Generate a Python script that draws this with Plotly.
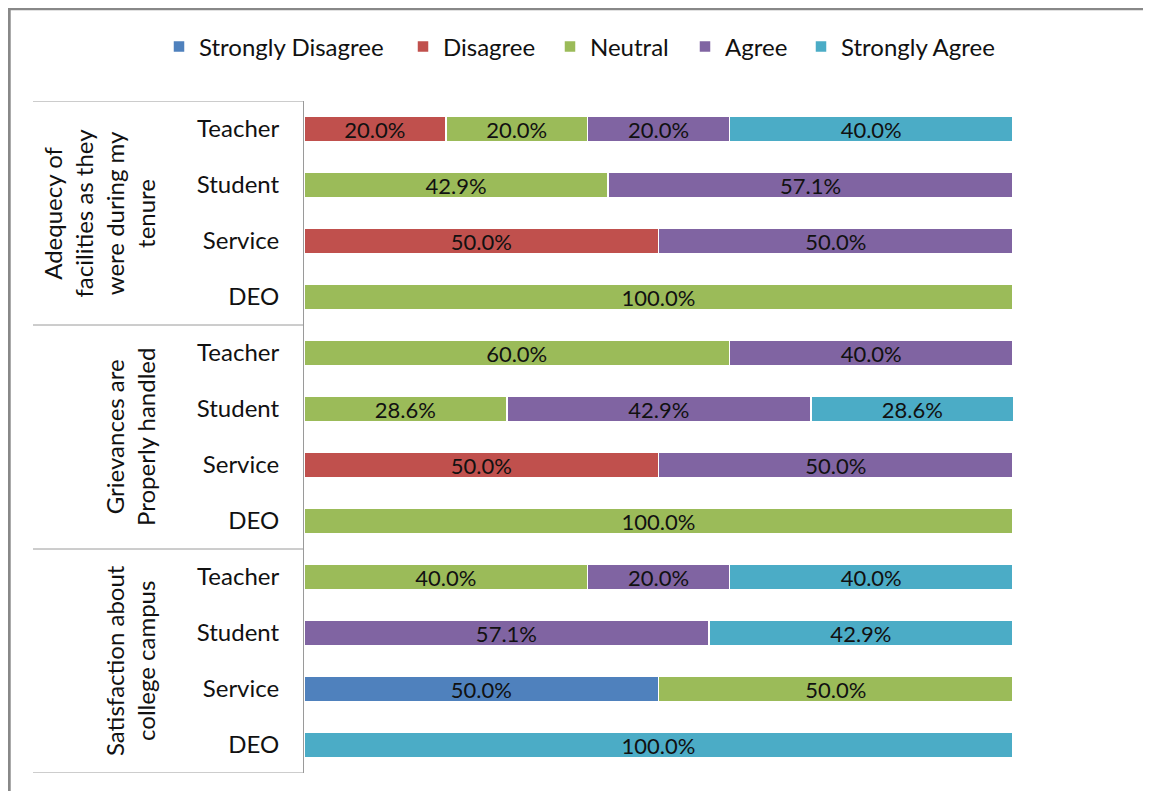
import plotly.graph_objects as go

groups = ["Adequecy of<br>facilities as they<br>were during my<br>tenure",
          "Grievances are<br>Properly handled",
          "Satisfaction about<br>college campus"]
roles = ["Teacher", "Student", "Service", "DEO"]
series = ["Strongly Disagree", "Disagree", "Neutral", "Agree", "Strongly Agree"]
colors = ["#4F81BD", "#C0504D", "#9BBB59", "#8064A2", "#4BACC6"]

# rows: group1 (Teacher, Student, Service, DEO), group2 (...), group3 (...)
strongly_disagree = [0, 0, 0, 0,    0, 0, 0, 0,       0, 0, 50.0, 0]
disagree          = [20.0, 0, 50.0, 0,  0, 0, 50.0, 0,  0, 0, 0, 0]
neutral           = [20.0, 42.9, 0, 100.0,  60.0, 28.6, 0, 100.0,  40.0, 0, 50.0, 0]
agree             = [20.0, 57.1, 50.0, 0,  40.0, 42.9, 50.0, 0,  20.0, 57.1, 0, 0]
strongly_agree    = [40.0, 0, 0, 0,  0, 28.6, 0, 0,  40.0, 42.9, 0, 100.0]
values = [strongly_disagree, disagree, neutral, agree, strongly_agree]

OFF = 8  # page body margin
W, H = 1135, 783
# plot area in page pixels
L, R, T, B = 304, 1013, 101, 773
pw, ph = R - L, B - T
FONT = "Lato"
TXT = "#111111"
legend_sq_left = [173, 417, 564, 699, 815]  # page px of legend swatches

row_labels = roles * len(groups)
ypos = list(range(len(row_labels)))

def px_x(p):
    return (p - L) / pw

def px_y(p):
    return 1 - (p - T) / ph

fig = go.Figure()
legend_layouts = {}
for i, (name, col, vals) in enumerate(zip(series, colors, values)):
    v = [x if x else None for x in vals]
    lg = "legend" if i == 0 else f"legend{i + 1}"
    fig.add_trace(go.Bar(
        y=ypos, x=v, name=name, orientation="h", legend=lg,
        marker=dict(color=col, line=dict(color="white", width=1.5)),
        texttemplate="%{x:.1f}%", textposition="inside", insidetextanchor="middle",
        textfont=dict(family=FONT, size=22, color=TXT),
        constraintext="none", width=0.46, hoverinfo="skip",
    ))
    legend_layouts[lg] = dict(orientation="h", x=px_x(legend_sq_left[i] - 14), xanchor="left",
                              y=px_y(47), yanchor="middle", bgcolor="rgba(0,0,0,0)",
                              font=dict(family=FONT, size=24, color=TXT),
                              itemwidth=30)

shapes = []
for b in [-0.5, 3.5, 7.5, 11.5]:
    shapes.append(dict(type="line", xref="paper", yref="y", x0=px_x(33), x1=0, y0=b, y1=b,
                       line=dict(color="#9a9a9a", width=1)))
shapes.append(dict(type="rect", xref="paper", yref="paper", x0=px_x(9.2), x1=px_x(1200),
                   y0=px_y(850), y1=px_y(8.7), line=dict(color="#888888", width=3),
                   fillcolor="rgba(0,0,0,0)", layer="below"))

annotations = []
for i, g in enumerate(groups):
    yc = i * 4 + 1.5
    annotations.append(dict(text=g, xref="paper", yref="y", x=px_x(162), y=yc,
                            xanchor="right", yanchor="middle", textangle=-90,
                            showarrow=False, align="center",
                            font=dict(family=FONT, size=24, color=TXT)))

fig.update_layout(
    width=W, height=H, barmode="stack",
    margin=dict(l=L - OFF, r=W - (R - OFF), t=T - OFF, b=H - (B - OFF), pad=0, autoexpand=False),
    paper_bgcolor="white", plot_bgcolor="white",
    font=dict(family=FONT, size=24, color=TXT),
    xaxis=dict(range=[0, 100], visible=False, fixedrange=True),
    yaxis=dict(range=[11.5, -0.5], tickvals=ypos, ticktext=row_labels, showgrid=False,
               zeroline=False, showline=True, linecolor="#9a9a9a", linewidth=1,
               ticks="", ticklabelstandoff=19,
               tickfont=dict(family=FONT, size=24, color=TXT)),
    shapes=shapes, annotations=annotations, showlegend=True,
    **legend_layouts,
)

fig.write_html("out.html")
